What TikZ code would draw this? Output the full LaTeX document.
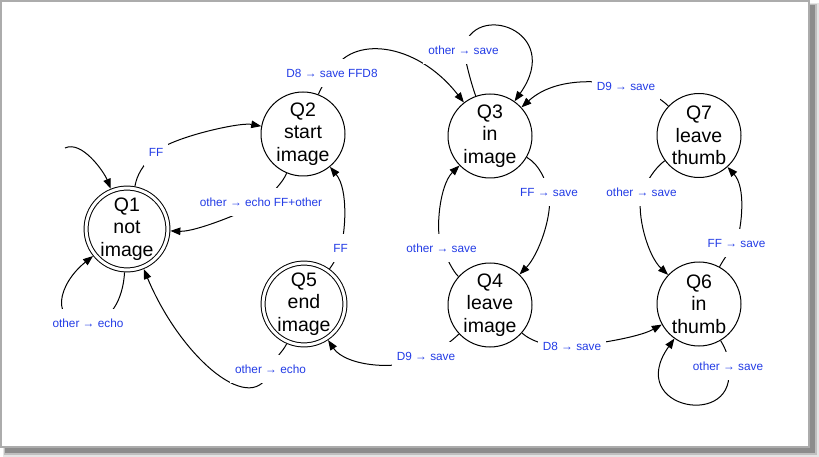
\documentclass[tikz,border=0pt]{standalone}
\usepackage{fontspec}
\setmainfont{Liberation Sans}
\usetikzlibrary{arrows.meta}
\definecolor{lblue}{RGB}{35,60,230}
\definecolor{framegray}{RGB}{172,172,172}
\begin{document}
\begin{tikzpicture}[x=1pt,y=-1pt,
  state/.style={circle, draw, line width=1pt, minimum size=84pt, inner sep=0pt, fill=white, align=center, font=\fontsize{19.5}{22.5}\selectfont},
  accept/.style={state, double, double distance=3pt, minimum size=80pt, outer sep=2.5pt},
  lab/.style={fill=white, text=lblue, font=\fontsize{11.8}{13}\selectfont, inner xsep=5pt, inner ysep=9.5pt, text height=8.5pt, text depth=0pt},
  edge/.style={line width=1pt},
  arr/.style={edge, -{Triangle[length=10pt,width=7.5pt]}}
]
\useasboundingbox (0,0) rectangle (819,457);
% frame with shadow
\fill[black!10] (3,3) rectangle (818.5,456.5);
\fill[black!25] (4,4) rectangle (817,455);
\fill[black!45] (5,5) rectangle (815,453);
\draw[framegray, line width=2pt, fill=white] (1,1) rectangle (809,447);

% states
\node[accept] (Q1) at (127,229) {Q1\\not\\image};
\node[state]  (Q2) at (303,134) {Q2\\start\\image};
\node[state]  (Q3) at (490,136) {Q3\\in\\image};
\node[state]  (Q4) at (490,305) {Q4\\leave\\image};
\node[accept] (Q5) at (304,304) {Q5\\end\\image};
\node[state]  (Q6) at (699,304) {Q6\\in\\thumb};
\node[state]  (Q7) at (699,135.5) {Q7\\leave\\thumb};

% label positions
\coordinate (start) at (65,148);
\coordinate (c1) at (156,152);
\coordinate (c2) at (261,202);
\coordinate (c3) at (340.5,248);
\coordinate (c4) at (270.5,369);
\coordinate (c5) at (88,323);
\coordinate (c7) at (332,73);
\coordinate (c8) at (463.5,50);
\coordinate (c9) at (626,86);
\coordinate (c10) at (549,192);
\coordinate (c11) at (441.5,248);
\coordinate (c12) at (426,356);
\coordinate (c13) at (572,346);
\coordinate (c14) at (641.5,192);
\coordinate (c15) at (736.5,243);
\coordinate (c16) at (728,366);

% edges
\draw[arr] (start) .. controls (82,140) and (104,172) .. (Q1);
\draw[arr] (Q1) .. controls (137,175) and (142,166) .. (c1) .. controls (170,138) and (239,122) .. (Q2);
\draw[arr] (Q2) .. controls (283,182) and (272,194) .. (c2) .. controls (250,210) and (196,232) .. (Q1);
\draw[arr] (Q5) .. controls (336,260) and (338,254) .. (c3) .. controls (345,235) and (349,190) .. (Q2);
\draw[arr] (Q5) .. controls (283,352) and (274,358) .. (c4) .. controls (255,420) and (181.8,360) .. (Q1);
\draw[arr] (Q1) .. controls (123,300) and (110,323) .. (c5) .. controls (48,323) and (58.4,283.6) .. (Q1);
\draw[arr] (Q2) .. controls (322,85) and (328,79) .. (c7) .. controls (350,35) and (416,41) .. (Q3);
\draw[arr] (Q3) .. controls (470,80) and (466,62) .. (c8) .. controls (472,0) and (565,30) .. (Q3);
\draw[arr] (Q7) .. controls (660,98) and (650,92) .. (c9) .. controls (605,81) and (556.6,75.4) .. (Q3);
\draw[arr] (Q3) .. controls (540,165) and (545,180) .. (c10) .. controls (553,215) and (538.7,254.7) .. (Q4);
\draw[arr] (Q4) .. controls (452.9,271.5) and (447,258) .. (c11) .. controls (435,230) and (439.7,184.7) .. (Q3);
\draw[arr] (Q4) .. controls (449.8,342.6) and (440,350) .. (c12) .. controls (400,372) and (345.6,366.4) .. (Q5);
\draw[arr] (Q4) .. controls (531.3,341.3) and (550,348) .. (c13) .. controls (590,345) and (637.75,337.9) .. (Q6);
\draw[arr] (Q7) .. controls (654.7,168.1) and (648,180) .. (c14) .. controls (636,215) and (648,256) .. (Q6);
\draw[arr] (Q6) .. controls (728,251.5) and (732,250) .. (c15) .. controls (742,225) and (746,187.4) .. (Q7);
\draw[arr] (Q6) .. controls (727,351.4) and (728,356) .. (c16) .. controls (740,430) and (623.7,409.9) .. (Q6);

% labels
\node[lab] (l1) at (c1) {FF};
\node[lab] (l2) at (c2) {other → echo FF+other};
\node[lab] (l3) at (c3) {FF};
\node[lab] (l4) at (c4) {other → echo};
\node[lab] (l5) at (c5) {other → echo};
\node[lab] (l7) at (c7) {D8 → save FFD8};
\node[lab] (l8) at (c8) {other → save};
\node[lab] (l9) at (c9) {D9 → save};
\node[lab] (l10) at (c10) {FF → save};
\node[lab] (l11) at (c11) {other → save};
\node[lab] (l12) at (c12) {D9 → save};
\node[lab] (l13) at (c13) {D8 → save};
\node[lab] (l14) at (c14) {other → save};
\node[lab] (l15) at (c15) {FF → save};
\node[lab] (l16) at (c16) {other → save};
\end{tikzpicture}
\end{document}
